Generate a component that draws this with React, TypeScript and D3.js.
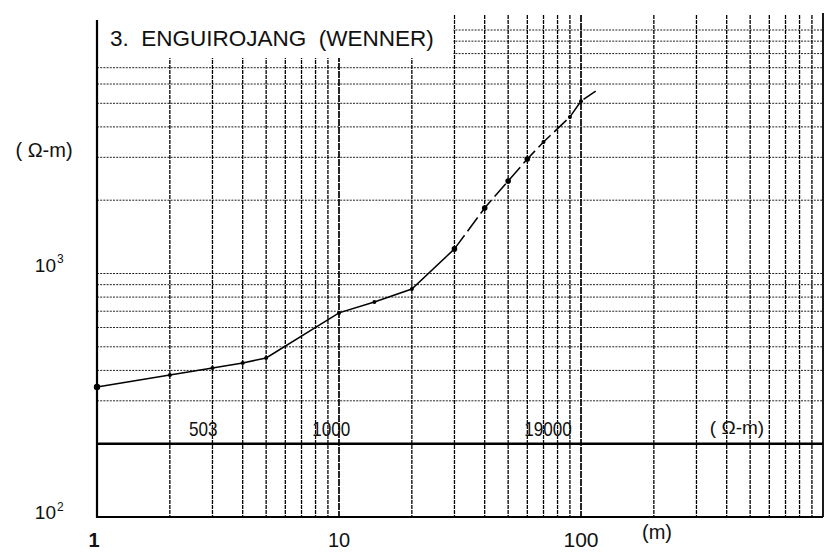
import React from "react";
import * as d3 from "d3";

// ---- data ----
const spacing = [1, 2, 3, 4, 5, 10, 14, 20, 30, 40, 50, 60, 70, 90, 100, 115];
const resistivity = [342, 383, 409, 429, 450, 689, 764, 863, 1262, 1858, 2398, 2953, 3467, 4395, 5103, 5610];
const solidUntil = 30; // field curve drawn solid up to this spacing, dashed beyond
const layerValues = ["503", "1000", "19000"];
const layerAt = [2.75, 9.3, 73];
const xTickLabels = [1, 10, 100];
const yTickExponents = [3, 2];
const title = "3.  ENGUIROJANG  (WENNER)";

const W = 825;
const H = 560;
const FONT = "'Liberation Sans', Arial, Helvetica, sans-serif";

export default function App() {
  const x = d3.scaleLog().domain([1, 1000]).range([97, 823]);
  const y = d3.scaleLog().domain([100, 10000]).range([517, 30]);

  const xGrid: number[] = [];
  [1, 10, 100].forEach((d) => {
    for (let k = 1; k <= 9; k++) if (!(d === 1 && k === 1)) xGrid.push(k * d);
  });
  const yLines: number[] = [];
  for (let k = 3; k <= 9; k++) yLines.push(k * 100);
  for (let k = 1; k <= 9; k++) yLines.push(k * 1000);
  yLines.push(10000);

  const titleRight = x(30) - 1;
  const titleBottom = 58;

  const pts = spacing.map((s, i) => [s, resistivity[i]] as [number, number]);
  const line = d3
    .line<[number, number]>()
    .x((d) => x(d[0]))
    .y((d) => y(d[1]));
  const solidPts = pts.filter((p) => p[0] <= solidUntil);
  const dashPts = pts.filter((p) => p[0] >= solidUntil);

  const yBottom = y(100);
  const yStrip = y(200);

  return (
    <svg
      width={W}
      height={H}
      style={{ position: "absolute", left: 0, top: 0, background: "#fff" }}
      fontFamily={FONT}
    >
      <rect x={0} y={0} width={W} height={H} fill="#fff" />
      {/* horizontal grid lines */}
      {yLines.map((v) => (
        <line
          key={"h" + v}
          x1={x(1)}
          x2={x(1000)}
          y1={y(v)}
          y2={y(v)}
          stroke="#222"
          strokeWidth={1}
          strokeDasharray="2,1.2"
        />
      ))}
      {/* vertical grid lines */}
      {xGrid.map((v) => (
        <line
          key={"v" + v}
          x1={x(v)}
          x2={x(v)}
          y1={15}
          y2={yBottom}
          stroke="#000"
          strokeWidth={v === 10 || v === 100 ? 1.7 : 1.3}
          strokeDasharray={v === 10 || v === 100 ? "7,1" : "4,1"}
        />
      ))}
      {/* title box */}
      <rect x={x(1) + 1} y={8} width={titleRight - x(1) - 1} height={titleBottom - 8} fill="#fff" />
      <text x={110} y={46} fontSize={22.5} fill="#111" style={{ whiteSpace: "pre" }}>
        {title}
      </text>

      {/* frame */}
      <line x1={x(1)} x2={x(1)} y1={20} y2={yBottom + 1} stroke="#000" strokeWidth={2.2} />
      <line x1={x(1000)} x2={x(1000)} y1={13} y2={yBottom} stroke="#000" strokeWidth={1.8} />
      <line x1={x(1)} x2={x(1000)} y1={yBottom} y2={yBottom} stroke="#000" strokeWidth={2} />
      <line x1={x(1)} x2={x(1000)} y1={yStrip} y2={yStrip} stroke="#000" strokeWidth={2.4} />

      {/* curve */}
      <path d={line(solidPts) || ""} fill="none" stroke="#000" strokeWidth={1.5} />
      <path d={line(dashPts) || ""} fill="none" stroke="#000" strokeWidth={1.5} strokeDasharray="17,5" />
      {pts.slice(0, -1).map((p, i) => (
        <circle
          key={"p" + i}
          cx={x(p[0])}
          cy={y(p[1])}
          r={i === 0 ? 3.2 : p[0] >= 30 && p[0] <= 60 ? 2.8 : 2}
          fill="#000"
        />
      ))}

      {/* layer resistivities */}
      {layerValues.map((t, i) => (
        <text
          key={"l" + i}
          x={x(layerAt[i])}
          y={436}
          fontSize={21}
          textAnchor="middle"
          fill="#111"
          textLength={t.length * 9.5}
          lengthAdjust="spacingAndGlyphs"
        >
          {t}
        </text>
      ))}
      <text x={737} y={434} fontSize={19} textAnchor="middle" fill="#111" style={{ whiteSpace: "pre" }}>
        {"( Ω-m)"}
      </text>

      {/* y axis labels */}
      <text x={44} y={157} fontSize={20} textAnchor="middle" fill="#111" style={{ whiteSpace: "pre" }}>
        {"( Ω-m)"}
      </text>
      {yTickExponents.map((e) => (
        <g key={"ye" + e}>
          <text x={56} y={y(Math.pow(10, e)) + (e === 2 ? 2 : -2)} fontSize={19} textAnchor="end" fill="#111">
            10
          </text>
          <text x={57} y={y(Math.pow(10, e)) + (e === 2 ? -6 : -11)} fontSize={12} fill="#111">
            {e}
          </text>
        </g>
      ))}

      {/* x axis labels */}
      {xTickLabels.map((v) => (
        <text
          key={"xl" + v}
          x={x(v) - (v === 1 ? 3 : 0)}
          y={547}
          fontSize={v === 100 ? 21 : 20}
          fontWeight={v === 1 ? "bold" : "normal"}
          textAnchor="middle"
          fill="#111"
        >
          {v}
        </text>
      ))}
      <text x={657} y={539} fontSize={20} textAnchor="middle" fill="#111">
        (m)
      </text>
    </svg>
  );
}
